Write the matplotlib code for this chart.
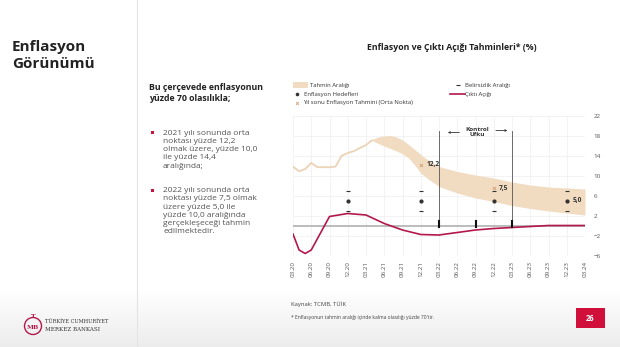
import numpy as np
import matplotlib.pyplot as plt
from matplotlib.patches import Rectangle, Circle

plt.rcParams['font.family'] = ['Open Sans', 'DejaVu Sans']

# months counted from 03.2020
tick_labels = ['03.20', '06.20', '09.20', '12.20', '03.21', '06.21', '09.21', '12.21',
               '03.22', '06.22', '09.22', '12.22', '03.23', '06.23', '09.23', '12.23', '03.24']

# realised annual CPI inflation, 03.20 - 04.21
infl_months = [0, 1, 2, 3, 4, 5, 6, 7, 8, 9, 10, 11, 12, 13]
infl_values = [11.86, 10.94, 11.39, 12.62, 11.76, 11.77, 11.75, 11.89, 14.03, 14.60,
               14.97, 15.61, 16.19, 17.14]

# forecast band (70%)
band_months = [13, 14, 15, 16, 17, 18, 19, 20, 21, 22, 24, 27, 30, 33, 36, 39, 42, 45, 48]
band_low = [17.1, 16.5, 16.0, 15.5, 15.0, 14.4, 13.6, 12.2, 10.6, 9.6, 7.9, 6.6, 5.6,
            4.9, 4.1, 3.5, 3.0, 2.6, 2.2]
band_high = [17.3, 17.8, 18.0, 18.1, 17.8, 17.2, 16.3, 15.3, 14.3, 13.4, 11.9, 10.9,
             10.2, 9.6, 8.8, 8.2, 7.8, 7.6, 7.4]

# year-end midpoints
mid_months = [21, 33, 45]
mid_values = [12.2, 7.5, 5.0]
mid_labels = ['12,2', '7,5', '5,0']

# inflation targets with uncertainty band
target_months = [9, 21, 33, 45]
target_values = [5, 5, 5, 5]
target_low = [3, 3, 3, 3]
target_high = [7, 7, 7, 7]

# output gap
gap_months = [0, 1, 2, 3, 6, 9, 12, 15, 18, 21, 24, 27, 30, 33, 36, 39, 42, 45, 48]
gap_values = [-1.6, -4.8, -5.5, -4.8, 1.9, 2.5, 2.2, 0.5, -0.8, -1.7, -1.8, -1.3, -0.8,
              -0.5, -0.3, -0.1, 0.1, 0.1, 0.1]

# control horizon
horizon = [24, 36]
horizon_ticks = [24, 30, 36]

tan = '#f1dcc2'
tan_line = '#ecd3b6'
cross_col = '#d09a70'
crimson = '#b3184c'
red = '#d0103a'
grey_txt = '#555555'

fig = plt.figure(figsize=(6.2, 3.47), dpi=100)

# slide background / frame
bg = fig.add_axes([0, 0, 1, 1], zorder=0)
bg.set_xlim(0, 620)
bg.set_ylim(347, 0)
bg.axis('off')
grad = np.linspace(0, 1, 60).reshape(-1, 1)
bg.imshow(grad, cmap=plt.matplotlib.colors.LinearSegmentedColormap.from_list(
    'foot', ['#ffffff', '#ececec']), extent=(0, 620, 347, 290), aspect='auto', zorder=0)
bg.plot([137, 137], [0, 347], color='#e3e3e3', lw=0.8)

bg.text(12, 55.5, 'Enflasyon\nGörünümü', fontsize=11, fontweight='bold', color='#222222',
        va='center', linespacing=1.2)
bg.text(149, 93, 'Bu çerçevede enflasyonun\nyüzde 70 olasılıkla;', fontsize=6.3,
        fontweight='bold', color='#222222', va='center', linespacing=1.3)

bullets = [
    (133, '2021 yılı sonunda orta\nnoktası yüzde 12,2\nolmak üzere, yüzde 10,0\nile yüzde 14,4\naralığında;'),
    (190.5, '2022 yılı sonunda orta\nnoktası yüzde 7,5 olmak\nüzere yüzde 5,0 ile\nyüzde 10,0 aralığında\ngerçekleşeceği tahmin\nedilmektedir.'),
]
for y0, txt in bullets:
    bg.add_patch(Rectangle((150.8, y0 - 1.6), 3, 3, color=red, lw=0))
    bg.text(163, y0 - 3.5, txt, fontsize=6, color=grey_txt, va='top', linespacing=1.25)

bg.text(452, 47, 'Enflasyon ve Çıktı Açığı Tahminleri* (%)', fontsize=6.3,
        fontweight='bold', color='#222222', ha='center', va='center')

# legend drawn by hand
leg_fs = 4.3
bg.add_patch(Rectangle((293, 82.3), 15, 5.4, color=tan, lw=0))
bg.text(309.5, 85, 'Tahmin Aralığı', fontsize=leg_fs, color='#333333', va='center')
bg.plot([297], [94], marker='o', ms=1.6, color='#333333')
bg.text(303.5, 94, 'Enflasyon Hedefleri', fontsize=leg_fs, color='#333333', va='center')
bg.plot([297], [102.5], marker='x', ms=2, mew=0.6, color=cross_col)
bg.text(303.5, 102.5, 'Yıl sonu Enflasyon Tahmini (Orta Nokta)', fontsize=leg_fs,
        color='#333333', va='center')
bg.plot([458], [85], marker='_', ms=2.5, mew=0.8, color='#333333')
bg.text(465, 85, 'Belirsizlik Aralığı', fontsize=leg_fs, color='#333333', va='center')
bg.plot([450, 465], [94, 94], color=crimson, lw=1.2)
bg.text(465, 94, 'Çıktı Açığı', fontsize=leg_fs, color='#333333', va='center')

# footer
bg.text(291, 304, 'Kaynak: TCMB, TÜİK', fontsize=4.2, color='#444444', va='center')
bg.text(291, 318, "* Enflasyonun tahmin aralığı içinde kalma olasılığı yüzde 70'tir.",
        fontsize=3.6, color='#444444', va='center')
bg.add_patch(Rectangle((576, 308), 29, 20, color=red, lw=0))
bg.text(590.5, 318.5, '26', fontsize=5.5, fontweight='bold', color='white',
        ha='center', va='center')
bg.add_patch(Circle((33, 326), 8.5, fill=False, ec=crimson, lw=1.0))
bg.text(33, 327.5, 'MB', fontsize=4.5, fontweight='bold', color=crimson,
        ha='center', va='center', family='DejaVu Serif')
bg.text(33, 316.5, 'T', fontsize=4.5, fontweight='bold', color=crimson,
        ha='center', va='center', family='DejaVu Serif')
bg.text(45, 321.5, 'TÜRKİYE CUMHURİYET', fontsize=3.6, color='#333333',
        va='center', family='DejaVu Serif')
bg.text(45, 329.5, 'MERKEZ BANKASI', fontsize=4, color='#333333',
        va='center', family='DejaVu Serif')

# chart
ax = fig.add_axes([293 / 620, 1 - 256 / 347, 292 / 620, 140 / 347], zorder=1)
ax.set_facecolor('none')
ax.set_xlim(0, 48)
ax.set_ylim(-6, 22)
for s in ax.spines.values():
    s.set_visible(False)

ax.set_xticks(np.arange(0, 49, 3))
ax.set_xticklabels(tick_labels, rotation=90, fontsize=4.5, color=grey_txt)
ax.set_yticks([22, 18, 14, 10, 6, 2, -2, -6])
ax.yaxis.tick_right()
ax.tick_params(length=0)
ax.tick_params(axis='x', pad=3.5)
ax.tick_params(axis='y', pad=6)
for lab in ax.get_yticklabels():
    lab.set_fontsize(4.5)
    lab.set_color(grey_txt)
ax.grid(True, color='#eeeeee', lw=0.5)
ax.set_axisbelow(True)

ax.fill_between(band_months, band_low, band_high, color=tan, lw=0, zorder=2)
ax.plot(infl_months, infl_values, color=tan_line, lw=1.3, zorder=2)
ax.axhline(0, color='#aaaaaa', lw=1.1, zorder=3)
ax.plot(gap_months, gap_values, color=crimson, lw=1.2, zorder=4)

ax.scatter(target_months, target_values, s=4, color='#333333', zorder=5)
ax.scatter(target_months, target_low, marker='_', s=10, lw=0.8, color='#333333', zorder=5)
ax.scatter(target_months, target_high, marker='_', s=10, lw=0.8, color='#333333', zorder=5)
ax.scatter(mid_months, mid_values, marker='x', s=5, lw=0.6, color=cross_col, zorder=4)
for m, v, t in zip(mid_months, mid_values, mid_labels):
    ax.text(m + 0.9, v, t, fontsize=4.8, fontweight='bold', color='#333333',
            va='center', zorder=6)

# control horizon
for h in horizon:
    ax.plot([h, h], [0, 19], color='#555555', lw=0.6, zorder=5)
for h in horizon_ticks:
    ax.plot([h, h], [-0.3, 0.9], color='#111111', lw=1.5, zorder=6)
ax.text(30.3, 18.8, 'Kontrol\nUfku', fontsize=4.6, fontweight='bold', color='#333333',
        ha='center', va='center', linespacing=1.2, zorder=6)
ax.annotate('', xy=(25, 18.7), xytext=(27.8, 18.7),
            arrowprops=dict(arrowstyle='->', color='#333333', lw=0.6,
                            mutation_scale=3))
ax.annotate('', xy=(35.7, 19.1), xytext=(32.9, 19.1),
            arrowprops=dict(arrowstyle='->', color='#333333', lw=0.6,
                            mutation_scale=3))

fig.savefig('out.png', dpi=100)
